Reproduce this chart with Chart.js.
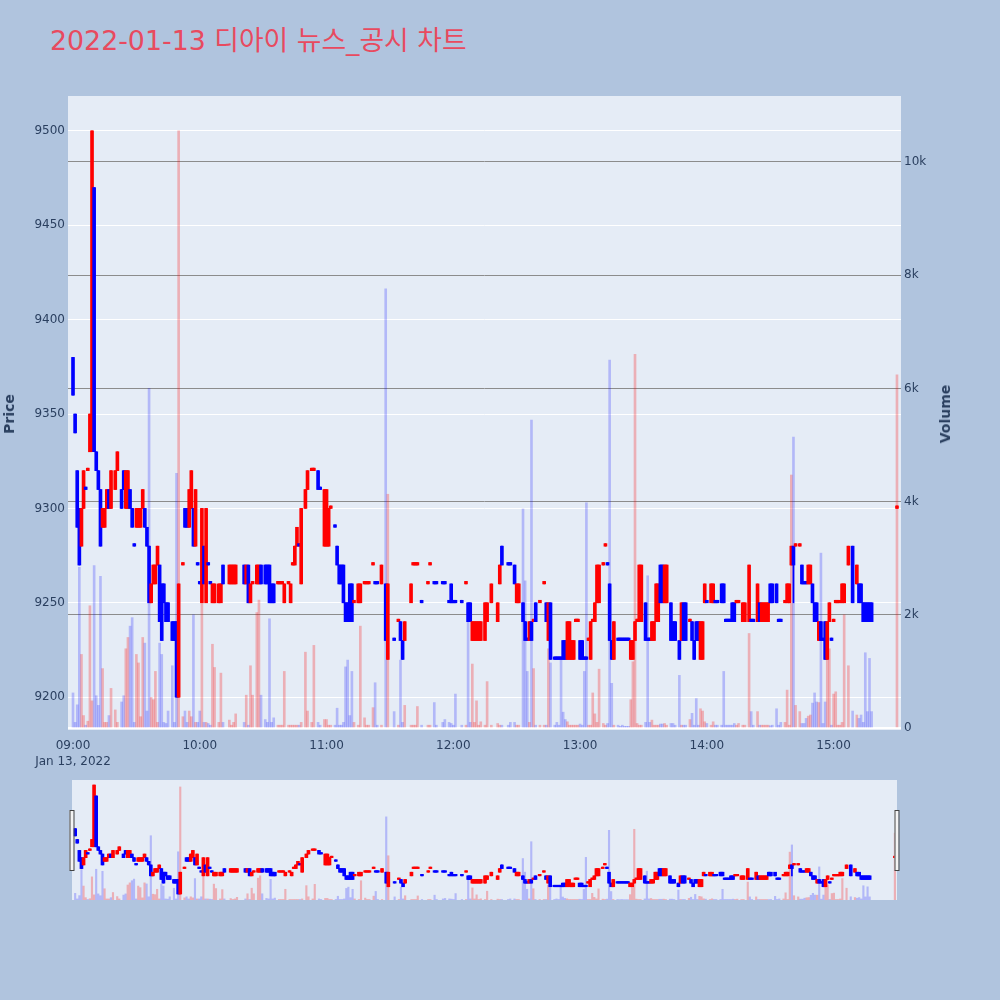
<!DOCTYPE html>
<html><head><meta charset="utf-8">
<script src="https://cdn.jsdelivr.net/npm/chart.js@4.4.0/dist/chart.umd.min.js"></script>
<style>
html,body{margin:0;padding:0;background:#b0c4de;width:1000px;height:1000px;overflow:hidden;}
#wrap{position:relative;width:1000px;height:1000px;}
#title{position:absolute;left:50px;top:26px;font-family:"DejaVu Sans","Noto Sans CJK KR",sans-serif;font-size:26.8px;line-height:30px;color:#e84a5f;white-space:nowrap;}
.ytitle{position:absolute;font-family:"DejaVu Sans",sans-serif;font-weight:bold;font-size:14px;color:#2a3f5f;transform:translate(-50%,-50%) rotate(-90deg);white-space:nowrap;}
canvas{position:absolute;left:0;}
</style></head>
<body><div id="wrap">
<div id="title">2022-01-13 디아이 뉴스_공시 차트</div>
<canvas id="main" width="1000" height="770" style="top:0;width:1000px;height:770px"></canvas>
<canvas id="slider" width="1000" height="140" style="top:770px;width:1000px;height:140px"></canvas>
<div class="ytitle" style="left:9px;top:414px">Price</div>
<div class="ytitle" style="left:945px;top:414px">Volume</div>
</div>
<script>
// ---- data (1-minute candles, 2022-01-13) ----
const times = [
"09:00","09:01","09:02","09:03","09:04","09:05","09:06","09:07","09:08","09:09","09:10","09:11","09:12","09:13","09:14","09:15","09:16","09:17","09:18","09:20","09:21","09:23","09:24","09:25","09:26","09:27","09:28","09:29","09:30","09:31","09:32","09:33","09:34","09:35","09:36","09:37","09:38","09:39","09:40","09:41","09:42","09:43","09:44","09:45","09:47","09:48","09:49","09:50","09:52","09:53","09:54","09:55","09:56","09:57","09:58","09:59",
"10:00","10:01","10:02","10:03","10:04","10:05","10:06","10:07","10:09","10:10","10:11","10:14","10:15","10:16","10:17","10:21","10:22","10:23","10:24","10:25","10:27","10:28","10:29","10:31","10:32","10:33","10:34","10:35","10:37","10:38","10:39","10:40","10:42","10:43","10:44","10:45","10:46","10:47","10:48","10:50","10:51","10:53","10:54","10:56","10:57","10:59",
"11:00","11:01","11:02","11:04","11:05","11:06","11:07","11:08","11:09","11:10","11:11","11:12","11:13","11:15","11:16","11:18","11:19","11:20","11:22","11:23","11:24","11:26","11:28","11:29","11:32","11:34","11:35","11:36","11:37","11:40","11:41","11:42","11:43","11:45","11:48","11:49","11:51","11:52","11:55","11:56","11:58","11:59",
"12:00","12:01","12:04","12:06","12:07","12:08","12:09","12:10","12:11","12:12","12:13","12:15","12:16","12:18","12:21","12:22","12:23","12:26","12:27","12:29","12:30","12:31","12:33","12:34","12:35","12:36","12:37","12:38","12:39","12:41","12:43","12:44","12:45","12:46","12:48","12:49","12:50","12:51","12:52","12:53","12:54","12:55","12:56","12:57","12:58","12:59",
"13:00","13:01","13:02","13:03","13:04","13:05","13:06","13:07","13:08","13:09","13:11","13:12","13:13","13:14","13:15","13:16","13:18","13:19","13:20","13:21","13:22","13:23","13:24","13:25","13:26","13:27","13:28","13:29","13:31","13:32","13:33","13:34","13:35","13:36","13:37","13:38","13:39","13:40","13:41","13:43","13:44","13:45","13:47","13:48","13:49","13:50","13:52","13:53","13:54","13:55","13:56","13:57","13:58","13:59",
"14:00","14:02","14:03","14:04","14:05","14:07","14:08","14:09","14:10","14:11","14:12","14:13","14:14","14:15","14:17","14:18","14:20","14:21","14:22","14:24","14:25","14:26","14:27","14:28","14:29","14:30","14:31","14:33","14:34","14:35","14:37","14:38","14:39","14:40","14:41","14:42","14:44","14:45","14:46","14:47","14:48","14:49","14:50","14:51","14:52","14:53","14:54","14:55","14:56","14:57","14:58","14:59",
"15:00","15:01","15:02","15:03","15:04","15:05","15:07","15:09","15:11","15:12","15:13","15:14","15:15","15:16","15:17","15:18","15:30"];

const open = [
9380,9350,9320,9300,9280,9300,9310,9320,9330,9330,9470,9330,9320,9310,9290,9290,9300,9310,9300,9310,9320,9310,9320,9300,9300,9310,9300,9280,9290,9290,9290,9300,9300,9290,9280,9250,9260,9260,9270,9270,9260,9260,9250,9250,9240,9240,9240,9200,9270,9300,9300,9290,9300,9300,9280,9270,
9260,9250,9280,9250,9270,9260,9250,9250,9250,9250,9270,9260,9260,9260,9260,9270,9260,9270,9250,9260,9260,9260,9270,9270,9270,9270,9260,9260,9260,9260,9260,9250,9260,9250,9270,9270,9280,9280,9260,9300,9310,9320,9320,9320,9310,9280,
9280,9280,9300,9290,9280,9270,9270,9270,9250,9250,9260,9260,9250,9250,9250,9260,9260,9260,9270,9260,9260,9260,9260,9220,9230,9240,9240,9230,9230,9250,9270,9270,9270,9250,9260,9270,9260,9260,9260,9260,9250,9260,
9250,9250,9250,9260,9250,9250,9230,9230,9230,9230,9230,9230,9240,9250,9240,9260,9280,9270,9270,9270,9250,9250,9250,9240,9230,9230,9240,9240,9250,9250,9260,9250,9230,9250,9220,9220,9220,9220,9230,9230,9220,9220,9220,9220,9240,9240,
9230,9230,9220,9220,9230,9220,9240,9240,9250,9250,9270,9280,9270,9260,9230,9220,9230,9230,9230,9230,9230,9230,9220,9220,9230,9240,9240,9240,9250,9230,9230,9230,9230,9240,9240,9270,9270,9250,9250,9250,9240,9240,9230,9230,9250,9250,9240,9240,9230,9240,9240,9220,9220,9250,
9250,9250,9250,9250,9250,9260,9260,9240,9240,9240,9250,9250,9250,9250,9240,9240,9240,9240,9240,9240,9250,9240,9240,9240,9240,9260,9260,9260,9240,9240,9250,9250,9250,9270,9280,9280,9280,9270,9260,9260,9260,9260,9260,9250,9250,9230,9240,9230,9240,9220,9240,9230,
9240,9250,9250,9250,9250,9250,9270,9280,9260,9260,9260,9250,9250,9250,9250,9250,9300];

const high = [
9380,9350,9320,9300,9300,9320,9310,9320,9350,9500,9470,9330,9320,9310,9300,9300,9310,9310,9320,9320,9330,9310,9320,9320,9320,9310,9300,9280,9300,9300,9300,9310,9300,9290,9280,9260,9270,9270,9280,9270,9260,9260,9250,9250,9240,9240,9240,9260,9270,9300,9300,9310,9320,9300,9310,9270,
9260,9300,9280,9300,9270,9260,9260,9260,9260,9260,9270,9270,9270,9270,9270,9270,9270,9270,9260,9260,9270,9270,9270,9270,9270,9270,9260,9260,9260,9260,9260,9260,9260,9260,9270,9280,9290,9280,9300,9310,9320,9320,9320,9320,9310,9310,
9310,9300,9300,9290,9280,9270,9270,9270,9250,9250,9260,9260,9250,9260,9260,9260,9260,9260,9270,9260,9260,9270,9260,9260,9230,9240,9240,9230,9240,9260,9270,9270,9270,9250,9260,9270,9260,9260,9260,9260,9250,9260,
9250,9250,9250,9260,9250,9250,9240,9240,9240,9240,9240,9250,9250,9260,9250,9270,9280,9270,9270,9270,9260,9260,9250,9240,9230,9240,9240,9240,9250,9250,9260,9250,9250,9250,9220,9220,9220,9220,9230,9230,9240,9240,9230,9230,9240,9240,
9230,9230,9220,9220,9230,9240,9240,9250,9270,9270,9270,9280,9270,9260,9230,9240,9230,9230,9230,9230,9230,9230,9230,9230,9240,9240,9270,9270,9250,9230,9230,9240,9240,9260,9260,9270,9270,9270,9270,9250,9240,9240,9230,9250,9250,9250,9240,9240,9230,9240,9240,9240,9240,9260,
9250,9260,9260,9250,9250,9260,9260,9240,9240,9240,9250,9250,9250,9250,9250,9250,9270,9240,9240,9260,9250,9250,9250,9250,9250,9260,9260,9260,9240,9240,9250,9260,9260,9280,9280,9280,9280,9270,9260,9260,9270,9270,9260,9250,9250,9240,9240,9230,9240,9240,9250,9230,
9240,9250,9250,9250,9260,9260,9280,9280,9270,9260,9260,9250,9250,9250,9250,9250,9300];

const low = [
9360,9340,9290,9270,9280,9300,9310,9320,9330,9330,9330,9320,9310,9280,9290,9290,9300,9300,9300,9310,9320,9300,9310,9300,9300,9300,9290,9280,9290,9290,9290,9300,9290,9280,9250,9250,9260,9260,9270,9240,9230,9250,9240,9240,9230,9230,9200,9200,9270,9290,9290,9290,9300,9280,9280,9270,
9260,9250,9260,9250,9270,9260,9250,9250,9250,9250,9260,9260,9260,9260,9260,9260,9260,9250,9250,9260,9260,9260,9260,9260,9260,9250,9250,9250,9260,9260,9260,9250,9260,9250,9270,9270,9280,9280,9260,9300,9310,9320,9320,9310,9310,9280,
9280,9280,9300,9290,9270,9260,9260,9250,9240,9240,9240,9240,9250,9250,9250,9260,9260,9260,9270,9260,9260,9260,9230,9220,9230,9240,9230,9220,9230,9250,9270,9270,9270,9250,9260,9270,9260,9260,9260,9260,9250,9250,
9250,9250,9250,9260,9240,9240,9230,9230,9230,9230,9230,9230,9240,9250,9240,9260,9270,9270,9270,9260,9250,9250,9240,9230,9230,9230,9230,9240,9240,9250,9260,9240,9230,9220,9220,9220,9220,9220,9220,9220,9220,9220,9220,9220,9240,9240,
9220,9220,9220,9220,9230,9220,9240,9240,9250,9250,9270,9280,9270,9230,9220,9220,9230,9230,9230,9230,9230,9230,9220,9220,9230,9240,9240,9240,9230,9230,9230,9230,9230,9240,9240,9250,9250,9250,9250,9230,9230,9230,9220,9230,9230,9230,9240,9230,9220,9230,9230,9220,9220,9250,
9250,9250,9250,9250,9250,9250,9250,9240,9240,9240,9240,9240,9250,9250,9240,9240,9240,9240,9240,9240,9240,9240,9240,9240,9240,9250,9250,9250,9240,9240,9250,9250,9250,9270,9250,9280,9280,9260,9260,9260,9260,9260,9250,9240,9240,9230,9230,9230,9220,9220,9240,9230,
9240,9250,9250,9250,9250,9250,9270,9250,9260,9250,9250,9240,9240,9240,9240,9240,9300];

const close = [
9360,9340,9290,9270,9300,9320,9310,9320,9350,9500,9330,9320,9310,9280,9300,9300,9310,9300,9320,9320,9330,9300,9310,9320,9320,9300,9290,9280,9300,9300,9300,9310,9290,9280,9250,9260,9270,9270,9280,9240,9230,9250,9240,9240,9230,9230,9200,9260,9270,9290,9290,9310,9320,9280,9310,9270,
9260,9300,9260,9300,9270,9260,9260,9260,9260,9260,9260,9270,9270,9270,9270,9260,9270,9250,9260,9260,9270,9270,9260,9260,9260,9250,9250,9250,9260,9260,9260,9260,9260,9260,9270,9280,9290,9280,9300,9310,9320,9320,9320,9310,9310,9310,
9310,9300,9300,9290,9270,9260,9260,9250,9240,9240,9240,9240,9250,9260,9260,9260,9260,9260,9270,9260,9260,9270,9230,9260,9230,9240,9230,9220,9240,9260,9270,9270,9270,9250,9260,9270,9260,9260,9260,9260,9250,9250,
9250,9250,9250,9260,9240,9240,9240,9240,9240,9240,9240,9250,9250,9260,9250,9270,9270,9270,9270,9260,9260,9260,9240,9230,9230,9240,9230,9240,9240,9250,9260,9240,9250,9220,9220,9220,9220,9220,9220,9220,9240,9240,9230,9230,9240,9240,
9220,9220,9220,9220,9230,9240,9240,9250,9270,9270,9270,9280,9270,9230,9220,9240,9230,9230,9230,9230,9230,9230,9230,9230,9240,9240,9270,9270,9230,9230,9230,9240,9240,9260,9260,9250,9250,9270,9270,9230,9230,9230,9220,9250,9230,9230,9240,9230,9220,9230,9230,9240,9240,9260,
9250,9260,9260,9250,9250,9250,9250,9240,9240,9240,9240,9240,9250,9250,9250,9250,9270,9240,9240,9260,9240,9250,9250,9250,9250,9250,9250,9250,9240,9240,9250,9260,9260,9280,9270,9280,9280,9260,9260,9260,9270,9270,9250,9240,9240,9240,9230,9230,9220,9240,9250,9230,
9240,9250,9250,9250,9260,9260,9280,9250,9270,9250,9250,9240,9240,9240,9240,9240,9300];

const volume = [
620,100,410,2840,1300,220,50,120,2160,480,2870,570,400,2680,1050,100,100,220,700,320,100,460,570,1400,1600,1800,1950,100,1300,1150,200,1600,1500,300,6000,540,500,1000,100,1500,1300,100,80,300,1100,100,4500,10550,200,300,100,300,200,2000,100,100,
300,2200,100,100,80,50,1480,1070,100,970,100,140,50,100,250,100,580,50,1100,580,2040,2260,580,150,100,1930,100,180,50,50,50,1000,50,50,50,50,50,50,100,1340,300,100,1460,100,50,150,
150,50,50,50,350,50,50,100,1080,1200,220,1000,100,50,1800,180,50,50,360,800,50,50,7760,4130,290,50,1200,100,400,50,50,50,380,50,50,50,450,50,100,150,100,80,
50,600,50,50,2200,100,1130,100,480,50,110,50,820,50,80,50,50,50,100,100,50,50,3870,2600,1000,100,5440,1050,50,50,50,50,1400,1150,50,100,50,1200,280,150,110,50,50,50,50,50,
70,50,1000,3980,50,50,620,250,100,1040,80,50,80,6500,790,50,50,30,50,30,30,30,500,1170,6600,80,50,50,100,2690,100,140,50,50,50,70,70,80,50,80,80,50,930,50,50,50,150,260,50,520,50,340,300,110,
80,50,110,50,50,50,1000,50,50,50,50,80,50,80,50,50,1670,290,50,290,50,50,50,50,50,40,50,340,50,100,100,670,50,4470,5140,400,290,80,80,170,210,230,440,620,460,450,3090,80,460,1400,1400,50,
600,640,50,50,100,2000,1100,300,230,170,230,100,1330,290,1230,290,6240];

const priceTicks = [9200, 9250, 9300, 9350, 9400, 9450, 9500];
const volumeTicks = [0, 2000, 4000, 6000, 8000, 10000];
const timeTicks = ["09:00", "10:00", "11:00", "12:00", "13:00", "14:00", "15:00"];
const dateLabel = "Jan 13, 2022";

// ---- helpers ----
const toMin = t => { const p = t.split(':').map(Number); return (p[0] - 9) * 60 + p[1]; };
const xs = times.map(toMin);
const up = [];
(function () {
  let prevC = null, prevUp = true;
  for (let i = 0; i < close.length; i++) {
    let u;
    if (close[i] > open[i]) u = true;
    else if (close[i] < open[i]) u = false;
    else if (prevC !== null && close[i] !== prevC) u = close[i] > prevC;
    else u = prevUp;
    up.push(u); prevC = close[i]; prevUp = u;
  }
})();
const RED = '#ff0000', BLUE = '#0000ff';
const candleColors = up.map(u => u ? RED : BLUE);
const volColors = up.map(u => u ? 'rgba(255,0,0,0.26)' : 'rgba(0,0,255,0.22)');

function makeDatasets(bodyW, wickW, volW, minLen) {
  return [
    { label: 'Volume', yAxisID: 'yv', order: 3, grouped: false,
      data: xs.map((x, i) => ({ x: x, y: volume[i] })),
      backgroundColor: volColors, barThickness: volW, borderWidth: 0 },
    { label: 'Wick', yAxisID: 'y', order: 2, grouped: false,
      data: xs.map((x, i) => ({ x: x, y: [low[i], high[i]] })),
      backgroundColor: candleColors, barThickness: wickW, borderWidth: 0, minBarLength: minLen },
    { label: 'Price', yAxisID: 'y', order: 1, grouped: false,
      data: xs.map((x, i) => ({ x: x, y: [Math.min(open[i], close[i]), Math.max(open[i], close[i])] })),
      backgroundColor: candleColors, barThickness: bodyW, borderWidth: 0, minBarLength: minLen }
  ];
}

const bgPlugin = {
  id: 'plotbg',
  beforeDraw(chart) {
    const a = chart.chartArea, ctx = chart.ctx;
    ctx.save(); ctx.fillStyle = '#e5ecf6';
    ctx.fillRect(a.left, a.top, a.right - a.left, a.bottom - a.top);
    ctx.restore();
  }
};

Chart.defaults.font.family = '"DejaVu Sans", sans-serif';
Chart.defaults.font.size = 12;
Chart.defaults.color = '#2a3f5f';

new Chart(document.getElementById('main'), {
  type: 'bar',
  data: { datasets: makeDatasets(3, 1, 2, 2.5) },
  options: {
    responsive: false, animation: false,
    layout: { padding: { top: 96, right: 46, left: 0, bottom: 0 } },
    plugins: { legend: { display: false }, tooltip: { enabled: false }, title: { display: false } },
    scales: {
      x: {
        type: 'linear', min: -2.37, max: 391.9, offset: false,
        grid: { display: false }, border: { display: false },
        afterBuildTicks: s => { s.ticks = timeTicks.map(t => ({ value: toMin(t) })); },
        afterFit: s => { s.height = 40; },
        ticks: {
          autoSkip: false, maxRotation: 0, minRotation: 0, padding: 0,
          font: { family: '"DejaVu Sans", sans-serif', size: 12, lineHeight: 1.3 },
          callback: v => {
            const t = timeTicks.find(tt => toMin(tt) === v) || '';
            return v === 0 ? [t, dateLabel] : t;
          }
        }
      },
      y: {
        position: 'left', min: 9182.6, max: 9518.5,
        grid: { color: '#ffffff', lineWidth: 1, drawTicks: false }, border: { display: false },
        afterBuildTicks: s => { s.ticks = priceTicks.map(v => ({ value: v })); },
        afterFit: s => { s.width = 68; },
        ticks: { padding: 3, callback: v => String(v) }
      },
      yv: {
        position: 'right', min: -35, max: 11166,
        grid: {
          color: c => (c.tick && c.tick.value === 0) ? '#ffffff' : 'rgb(140,140,140)',
          lineWidth: c => (c.tick && c.tick.value === 0) ? 2 : 1,
          drawTicks: false
        },
        border: { display: false },
        afterBuildTicks: s => { s.ticks = volumeTicks.map(v => ({ value: v })); },
        afterFit: s => { s.width = 53; },
        ticks: { padding: 3, callback: v => v === 0 ? '0' : (v / 1000) + 'k' }
      }
    }
  },
  plugins: [bgPlugin]
});

const handlePlugin = {
  id: 'handles',
  afterDraw(chart) {
    const a = chart.chartArea, ctx = chart.ctx;
    ctx.save();
    ctx.fillStyle = '#f4f4f4'; ctx.strokeStyle = '#444'; ctx.lineWidth = 1;
    [a.left - 2.5, a.right - 2.5].forEach(x => {
      ctx.fillRect(x, a.top + 30, 4, 60);
      ctx.strokeRect(x + 0.5, a.top + 30.5, 4, 60);
    });
    ctx.restore();
  }
};

new Chart(document.getElementById('slider'), {
  type: 'bar',
  data: { datasets: makeDatasets(3, 1, 1.5, 1.5) },
  options: {
    responsive: false, animation: false,
    layout: { padding: { top: 10, right: 103, left: 72, bottom: 10 } },
    plugins: { legend: { display: false }, tooltip: { enabled: false } },
    scales: {
      x: { type: 'linear', display: false, min: -1.5, max: 391, offset: false },
      y: { display: false, min: 9183.5, max: 9513.8 },
      yv: { display: false, min: 0, max: 11200 }
    }
  },
  plugins: [bgPlugin, handlePlugin]
});
</script>
</body></html>
